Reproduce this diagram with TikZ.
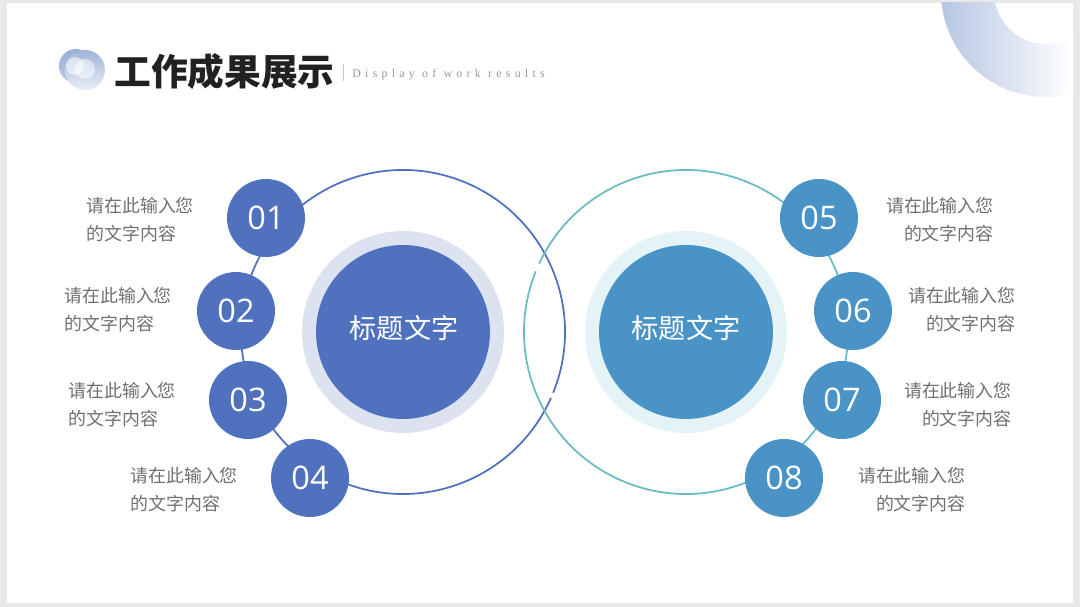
\documentclass[tikz,border=0pt]{standalone}
\usepackage{fontspec}
\setmainfont{Noto Sans CJK SC}
\newfontfamily\enserif[LetterSpace=35.5]{Liberation Serif}
\newfontfamily\numfont{Open Sans}
\usepackage{xcolor}
\definecolor{leftblue}{HTML}{4F71BE}
\definecolor{rightblue}{HTML}{4A93C6}
\definecolor{lefthalo}{HTML}{DDE2F1}
\definecolor{righthalo}{HTML}{E4F4F6}
\definecolor{ringteal}{HTML}{6ABCC4}
\definecolor{textgray}{HTML}{707070}
\definecolor{logoblue}{HTML}{8EA6D2}
\begin{document}
\begin{tikzpicture}[x=0.02cm,y=0.02cm,
    numdot/.style={circle, minimum size=1.56cm, inner sep=0pt, text=white, font=\numfont\fontsize{18.5}{20}\selectfont},
    bigdot/.style={circle, minimum size=3.48cm, inner sep=0pt},
    bigtext/.style={inner sep=0pt, text=white, font=\fontsize{15.5}{18}\selectfont},
    halo/.style={circle, minimum size=4.04cm, inner sep=0pt},
    note/.style={text=textgray, font=\fontsize{10.2}{15.9}\selectfont, inner sep=0pt, text width=2.2cm}]
    \useasboundingbox (0,0) rectangle (1080,607);
    % page
    \fill[black!9] (0,0) rectangle (1080,607);
    \fill[white] (7,4) rectangle (1073,604);
    % corner arc
    \begin{scope}[even odd rule]
        \clip (7,4) rectangle (1073,604);
        \clip (1046,615) circle (105) (1046,615) circle (52);
        \shade[left color=logoblue!65, right color=white] (941,500) rectangle (1073,607);
    \end{scope}
    % logo
    \shade[top color=logoblue!90, bottom color=logoblue!60] (76,541) circle (17);
    \shade[top color=logoblue!85, bottom color=logoblue!20] (85,537) circle (20);
    \fill[white, opacity=.55] (75,541) circle (9);
    \fill[white, opacity=.55] (85,538) circle (10);
    % title
    \node[anchor=west, inner sep=0pt, text=black!87, font=\fontsize{20.9}{24}\bfseries\selectfont] (title) at (114,535) {工作成果展示};
    \draw[logoblue!60, line width=.4pt] (343,526) -- (343,543);
    \node[anchor=west, inner sep=0pt, text=black!40, font=\enserif\fontsize{6.8}{8}\selectfont] (subtitle) at (352,532) {Display of work results};
    % rings
    \draw[leftblue, line width=1pt] (403,275) ++(-22:162) arc[start angle=-22, end angle=336, radius=162];
    \draw[ringteal, line width=1pt] (686,275) ++(158:162) arc[start angle=158, end angle=515, radius=162];
    % centres
    \node[halo, fill=lefthalo] (halol) at (403,275) {};
    \node[halo, fill=righthalo] (halor) at (686,275) {};
    \node[bigdot, fill=leftblue] (dotl) at (403,275) {};
    \node[bigdot, fill=rightblue] (dotr) at (686,275) {};
    \node[bigtext] (titlel) at (404,279) {标题文字};
    \node[bigtext] (titler) at (686,279) {标题文字};
    % numbers
    \foreach \name/\px/\py/\lab in {a/266/389/01, b/236/296/02, c/248/207/03, d/310/129/04}
        \node[numdot, fill=leftblue] (\name) at (\px,\py) {\lab};
    \foreach \name/\px/\py/\lab in {e/819/389/05, f/853/296/06, g/842/207/07, h/784/129/08}
        \node[numdot, fill=rightblue] (\name) at (\px,\py) {\lab};
    % notes
    \node[note, align=left, anchor=west] (na) at (86,387) {请在此输入您\\的文字内容};
    \node[note, align=left, anchor=west] (nb) at (64,297) {请在此输入您\\的文字内容};
    \node[note, align=left, anchor=west] (nc) at (68,202) {请在此输入您\\的文字内容};
    \node[note, align=left, anchor=west] (nd) at (130,117) {请在此输入您\\的文字内容};
    \node[note, align=right, anchor=east] (ne) at (994,387) {请在此输入您\\的文字内容};
    \node[note, align=right, anchor=east] (nf) at (1016,297) {请在此输入您\\的文字内容};
    \node[note, align=right, anchor=east] (ng) at (1012,202) {请在此输入您\\的文字内容};
    \node[note, align=right, anchor=east] (nh) at (966,117) {请在此输入您\\的文字内容};
\end{tikzpicture}
\end{document}
